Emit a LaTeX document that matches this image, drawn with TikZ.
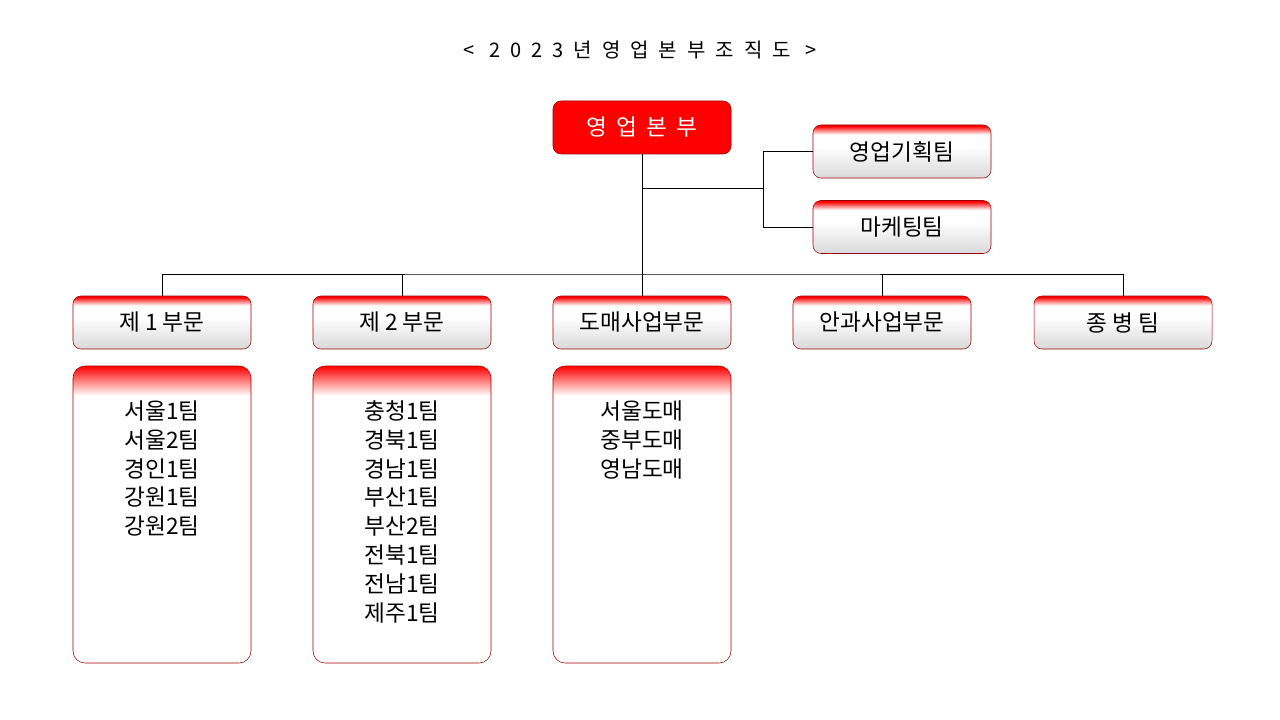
\documentclass[tikz,border=0pt]{standalone}
\usepackage{fontspec}
\setmainfont{Noto Sans CJK KR}
\pgfdeclareverticalshading{hdr}{100bp}{color(0bp)=(black!15); color(25bp)=(black!15); color(55bp)=(white); color(66bp)=(white); color(74bp)=(red); color(100bp)=(red)}
\pgfdeclareverticalshading{lst}{100bp}{color(0bp)=(white); color(70bp)=(white); color(75bp)=(red); color(100bp)=(red)}
\tikzset{
 bxb/.style={draw=red!60!black, rounded corners=6pt, minimum width=133.5pt, minimum height=39.75pt, font=\fontsize{17}{20}\selectfont, inner sep=0pt},
 bx/.style={bxb, shading=hdr},
 lb/.style={draw=red!60!black, rounded corners=9pt, minimum width=133.5pt, minimum height=222.75pt, shading=lst},
 lt/.style={font=\fontsize{17}{21.6}\selectfont, align=center, anchor=north},
 ln/.style={draw=black, line width=0.6pt}
}
\begin{document}
\begin{tikzpicture}[x=0.75pt,y=-0.75pt]
\useasboundingbox (0,0) rectangle (1280,720);
\node (title) at (640,50) {\fontsize{15}{18}\selectfont \addfontfeature{LetterSpace=50}< 2023년영업본부조직도 >};
\node[bxb, fill=red, text=white] (top) at (642,127.5) {\addfontfeature{LetterSpace=40}영업본부};
\node[bx] (plan) at (902,151.5) {영업기획팀};
\node[bx] (mkt) at (902,227) {마케팅팀};
\node[bx] (d1) at (162,322.5) {제 1 부문};
\node[bx] (d2) at (402,322.5) {제 2 부문};
\node[bx] (d3) at (642,322.5) {도매사업부문};
\node[bx] (d4) at (882,322.5) {안과사업부문};
\node[bx] (d5) at (1123,322.5) {종 병 팀};
\node[lb] (l1) at (162,514.5) {};
\node[lb] (l2) at (402,514.5) {};
\node[lb] (l3) at (642,514.5) {};
\node[lt] at (162,396) {서울1팀\\서울2팀\\경인1팀\\강원1팀\\강원2팀};
\node[lt] at (402,396) {충청1팀\\경북1팀\\경남1팀\\부산1팀\\부산2팀\\전북1팀\\전남1팀\\제주1팀};
\node[lt] at (642,396) {서울도매\\중부도매\\영남도매};
\coordinate (bus) at (642,274);
\coordinate (j) at (642,188);
\coordinate (k) at (763,188);
\draw[ln] (top.south) -- (bus);
\draw[ln] (j) -- (k);
\draw[ln] (k) |- (plan.west);
\draw[ln] (k) |- (mkt.west);
\draw[ln] (d1.north) |- (bus) -| (d5.north);
\draw[ln] (d2.north) -- (d2.north |- bus);
\draw[ln] (d3.north) -- (bus);
\draw[ln] (d4.north) -- (d4.north |- bus);
\end{tikzpicture}
\end{document}
